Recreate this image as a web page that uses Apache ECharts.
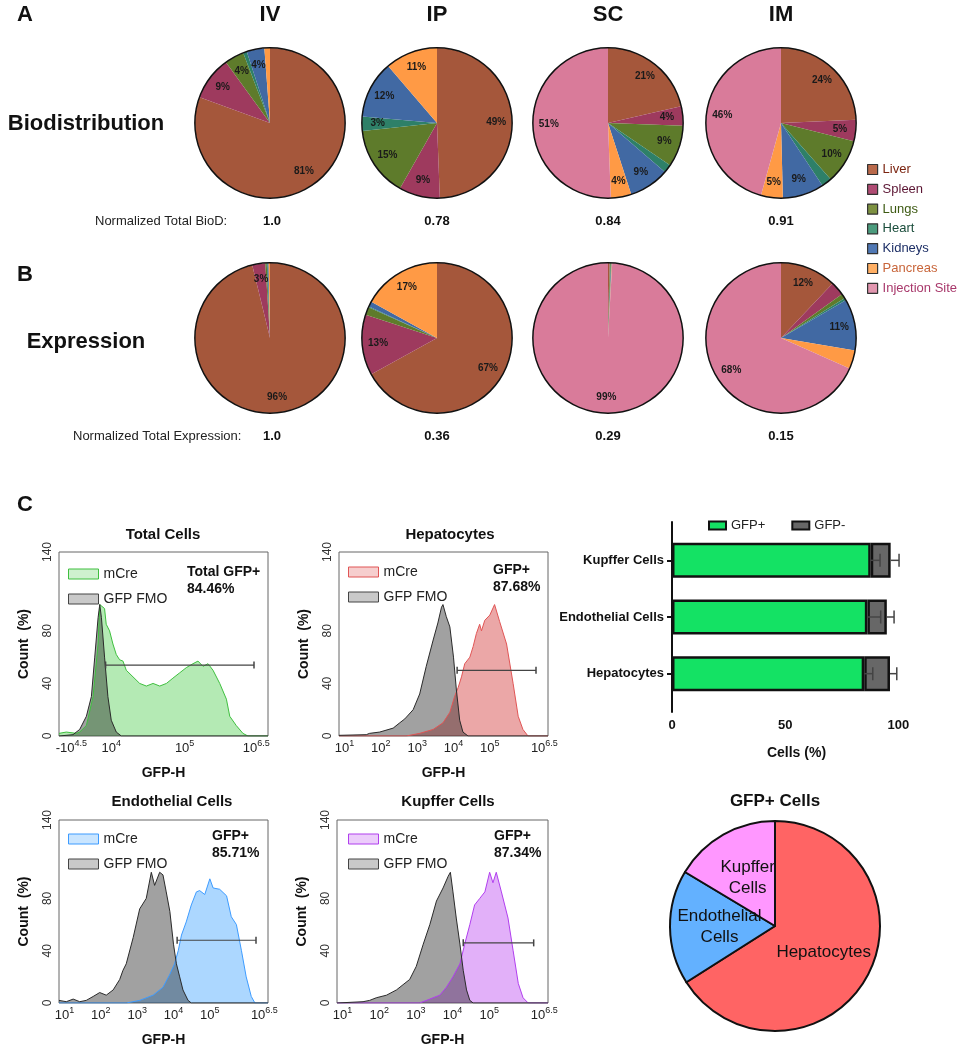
<!DOCTYPE html>
<html><head><meta charset="utf-8">
<script src="https://cdn.jsdelivr.net/npm/echarts@6/dist/echarts.min.js"></script>
<style>html,body{margin:0;padding:0;background:#fff}#c{width:960px;height:1050px}</style>
</head><body><div id="c"></div>
<script>
// ---------------- DATA ----------------
const organs = ['Liver','Spleen','Lungs','Heart','Kidneys','Pancreas','Injection Site'];
const routes = ['IV','IP','SC','IM'];
// Biodistribution (% of total), organ order as above
const biodIV = [80.6, 9.4, 4.2, 0.8, 3.8, 1.2, 0];
const biodIP = [49.4, 8.8, 15.1, 3.1, 12.3, 11.3, 0];
const biodSC = [21.4, 4.2, 8.9, 1.8, 8.7, 4.4, 50.6];
const biodIM = [24.3, 4.6, 9.6, 2.2, 8.9, 4.7, 45.7];
// Expression (% of total)
const exprIV = [96.2, 2.8, 0.3, 0.2, 0.2, 0.3, 0];
const exprIP = [67, 13, 1.7, 0.2, 1.1, 17, 0];
const exprSC = [0.3, 0.1, 0.2, 0.1, 0.1, 0.1, 99.1];
const exprIM = [12, 3, 1, 0.5, 11, 4, 68];
// which slices carry a % label
const biodLabeled = [[0,1,2,4],[0,1,2,3,4,5],[0,1,2,4,5,6],[0,1,2,4,5,6]];
const exprLabeled = [[0,1],[0,1,5],[6],[0,4,6]];
const normBioD = ['1.0','0.78','0.84','0.91'];
const normExpr = ['1.0','0.36','0.29','0.15'];

// Flow histograms: [x, count%]; x = log10(GFP-H) except Total Cells (biexponential display channel 0-1000)
const totalMcre = [[0,2],[35,3],[83,2],[99,3],[131,8],[163,30],[187,70],[195,100],[203,100],[218,97],[226,85],[242,80],[258,70],[274,62],[290,58],[306,57],[322,50],[354,45],[386,40],[418,38],[450,40],[482,38],[514,40],[545,44],[577,48],[609,52],[641,55],[665,57],[689,53],[713,55],[737,50],[769,40],[801,28],[817,15],[848,8],[880,2],[904,0],[1000,0]];
const totalFmo = [[0,0],[67,1],[99,5],[131,15],[155,30],[171,60],[187,90],[195,100],[203,90],[218,60],[234,30],[250,12],[274,3],[298,0],[1000,0]];
const totalGate = [[223,54],[933,54]];
const totalTickCh = [59, 250, 601, 944];
const totalTickBase = ['-10','10','10','10'];
const totalTickExp = ['4.5','4','5','6.5'];

const hepFmo = [[0.85,0.5],[1.6,1],[1.69,2],[1.97,3],[2.34,6],[2.52,10],[2.66,13],[2.89,20],[3.07,32],[3.25,53],[3.44,73],[3.57,86],[3.67,98],[3.71,100],[3.8,91],[3.9,83],[4.0,60],[4.08,35],[4.17,12],[4.26,3],[4.4,0],[6.6,0]];
const hepMcre = [[0.85,0],[2.7,0],[3.07,2],[3.44,5],[3.71,10],[3.9,18],[4.03,30],[4.13,37],[4.22,45],[4.31,55],[4.45,60],[4.54,68],[4.63,78],[4.72,85],[4.77,80],[4.86,88],[5.0,92],[5.13,100],[5.27,87],[5.46,70],[5.64,40],[5.78,15],[5.91,5],[6.05,0],[6.6,0]];
const hepGate = [[4.1,50],[6.27,50]];

const endoFmo = [[0.85,2],[1.05,1],[1.24,3],[1.42,1],[1.6,2],[1.79,5],[1.97,8],[2.15,6],[2.34,10],[2.52,18],[2.61,25],[2.7,30],[2.89,50],[3.07,72],[3.25,80],[3.39,100],[3.48,90],[3.62,100],[3.71,98],[3.8,85],[3.9,70],[4.0,45],[4.08,30],[4.17,20],[4.26,10],[4.4,2],[4.49,0],[6.6,0]];
const endoMcre = [[0.85,0],[2.7,0],[3.07,2],[3.44,6],[3.71,12],[3.9,22],[4.03,30],[4.13,40],[4.22,52],[4.35,62],[4.49,75],[4.63,85],[4.72,86],[4.86,83],[5.0,95],[5.09,88],[5.27,87],[5.46,82],[5.59,66],[5.73,60],[5.87,40],[6.0,20],[6.14,5],[6.24,0],[6.6,0]];
const endoGate = [[4.1,48],[6.27,48]];

const kupFmo = [[0.85,0],[1.56,1],[1.74,2],[1.92,4],[2.2,6],[2.47,10],[2.65,14],[2.83,18],[3.01,28],[3.2,45],[3.38,60],[3.56,78],[3.74,88],[3.88,97],[3.94,100],[4.01,85],[4.1,65],[4.2,45],[4.29,25],[4.38,10],[4.47,2],[4.56,0],[6.6,0]];
const kupMcre = [[0.85,0],[3.1,0],[3.38,3],[3.65,6],[3.83,12],[4.01,20],[4.2,30],[4.33,45],[4.47,60],[4.6,75],[4.74,80],[4.88,85],[5.01,100],[5.1,92],[5.19,100],[5.33,85],[5.51,65],[5.65,40],[5.79,15],[5.92,4],[6.06,0],[6.6,0]];
const kupGate = [[4.29,46],[6.21,46]];

const logTicks = [1, 2, 3, 4, 5, 6.5];
const countTicks = [0, 40, 80, 140];
const histTitles = ['Total Cells','Hepatocytes','Endothelial Cells','Kupffer Cells'];
const gfpLabel = ['Total GFP+','GFP+','GFP+','GFP+'];
const gfpPct = ['84.46%','87.68%','85.71%','87.34%'];

// Bar chart
const cellTypes = ['Hepatocytes','Endothelial Cells','Kupffer Cells'];
const gfpPos = [84.9, 86.3, 87.8];
const gfpNeg = [11.4, 8.6, 8.8];
const gfpPosErr = [3.8, 5.9, 4.1];
const gfpNegErr = [3.0, 3.2, 3.7];
const barTicks = [0, 50, 100];

// GFP+ cells pie
const gfpCellNames = ['Hepatocytes','Endothelial Cells','Kupffer Cells'];
const gfpCellShare = [66, 17.6, 16.4];

// ---------------- STYLE / LAYOUT ----------------
const FF = '"Liberation Sans", Arial, sans-serif';
const organColors = ['#A5573B','#9E3A5E','#5E7B2B','#2E8068','#4169A3','#FF9A45','#D97B9A'];
const organLegendFill = ['#B9694B','#AF4B73','#7D9141','#4B9B7D','#5078B4','#FFAF64','#E196AF'];
const organTextColors = ['#7B2410','#5C1634','#3D5A12','#1A4D3B','#1D2F66','#C8653A','#A8386B'];
const routeX = [270, 437, 608, 781];
const bioY = 123, exprY = 338, pieR = 75;

function pieSet(vals, labeled, cx, cy, r) {
  return [
    { type:'pie', silent:true, center:[cx,cy], radius:[0,r], startAngle:90, clockwise:true,
      label:{show:false}, labelLine:{show:false}, itemStyle:{borderWidth:0},
      data: organs.map((n,i)=>({name:n, value:vals[i], itemStyle:{color:organColors[i]}})) },
    { type:'pie', silent:true, center:[cx,cy], radius:[r*0.5, r], startAngle:90, clockwise:true,
      itemStyle:{color:'rgba(0,0,0,0)', borderWidth:0}, labelLine:{show:false},
      label:{position:'inside', fontSize:10, fontWeight:'bold', color:'#1a1a1a', fontFamily:FF,
             formatter:p=>Math.round(p.value)+'%'},
      data: vals.map((v,i)=>({value:v, label:{show:labeled.includes(i)}})) },
    { type:'pie', silent:true, center:[cx,cy], radius:[r-0.6, r+0.9], label:{show:false}, labelLine:{show:false},
      itemStyle:{color:'#111'}, data:[{value:1}] }
  ];
}

const series = [];
[biodIV, biodIP, biodSC, biodIM].forEach((v,i)=>series.push(...pieSet(v, biodLabeled[i], routeX[i], bioY, pieR)));
[exprIV, exprIP, exprSC, exprIM].forEach((v,i)=>series.push(...pieSet(v, exprLabeled[i], routeX[i], exprY, pieR)));

// histogram grids
const histGrids = [
  {left:59, top:552, width:209, height:184},
  {left:339, top:552, width:209, height:184},
  {left:59, top:820, width:209, height:183},
  {left:337, top:820, width:211, height:183}
];
const histSets = [
  {key:'t', mcre:totalMcre, fmo:totalFmo, gate:totalGate, line:'#3FBF3F', fill:'rgba(60,200,60,0.55)', legFill:'rgba(60,200,60,0.25)'},
  {key:'h', mcre:hepMcre, fmo:hepFmo, gate:hepGate, line:'#E05555', fill:'rgba(205,40,40,0.58)', legFill:'rgba(220,60,60,0.25)'},
  {key:'e', mcre:endoMcre, fmo:endoFmo, gate:endoGate, line:'#3D9BFF', fill:'rgba(40,150,255,0.55)', legFill:'rgba(40,150,255,0.25)'},
  {key:'k', mcre:kupMcre, fmo:kupFmo, gate:kupGate, line:'#B03EEE', fill:'rgba(180,50,240,0.55)', legFill:'rgba(180,50,240,0.25)'}
];
const histLegendPos = [[63,562],[343,560],[63,827],[343,827]];
const histTitlePos = [[163,535],[450,535],[172,802],[448,802]];
const gfpTextPos = [[187,572],[493,570],[212,836],[494,836]];

const grids = histGrids.map(g=>Object.assign({show:true, borderColor:'#666', borderWidth:1, backgroundColor:'#fff'}, g));
grids.push({left:672, top:532, width:249, height:170});   // bar chart
grids.push({left:672, top:522, width:249, height:190});   // bar chart y-axis line

const supRich = {
  b:{fontSize:13, color:'#222', lineHeight:16, verticalAlign:'bottom', fontFamily:FF},
  s:{fontSize:9, color:'#222', lineHeight:16, verticalAlign:'top', fontFamily:FF}
};
const xAxes = [], yAxes = [];
histSets.forEach((h,i)=>{
  const isTotal = i===0;
  xAxes.push({
    type:'value', gridIndex:i, min: isTotal?0:0.85, max: isTotal?1000:6.6,
    axisLine:{show:false}, axisTick:{show:false}, splitLine:{show:false},
    name:'GFP-H', nameLocation:'middle', nameGap:30,
    nameTextStyle:{fontSize:14, fontWeight:'bold', color:'#111', fontFamily:FF},
    axisLabel:{ margin:3, customValues: isTotal?totalTickCh:logTicks, rich:supRich,
      formatter: v => isTotal
        ? '{b|'+totalTickBase[totalTickCh.indexOf(v)]+'}{s|'+totalTickExp[totalTickCh.indexOf(v)]+'}'
        : '{b|10}{s|'+v+'}' }
  });
  yAxes.push({
    type:'value', gridIndex:i, min:0, max:140,
    axisLine:{show:false}, axisTick:{show:false}, splitLine:{show:false},
    name:'Count  (%)', nameLocation:'middle', nameGap:28, nameRotate:90,
    nameTextStyle:{fontSize:14, fontWeight:'bold', color:'#111', fontFamily:FF},
    axisLabel:{customValues:countTicks, rotate:90, fontSize:12, color:'#333', margin:5, fontFamily:FF}
  });
  series.push({type:'line', name:'mCre|'+h.key, xAxisIndex:i, yAxisIndex:i, data:h.mcre, symbol:'none', silent:true,
    lineStyle:{color:h.line, width:1}, itemStyle:{color:h.line}, areaStyle:{color:h.fill}});
  series.push({type:'line', name:'GFP FMO|'+h.key, xAxisIndex:i, yAxisIndex:i, data:h.fmo, symbol:'none', silent:true,
    lineStyle:{color:'#2a2a2a', width:1}, itemStyle:{color:'#555'}, areaStyle:{color:'rgba(30,30,30,0.6)'}});
  series.push({type:'line', name:'gate|'+h.key, xAxisIndex:i, yAxisIndex:i, data:h.gate, silent:true,
    symbol:'rect', symbolSize:[1.5,7], lineStyle:{color:'#444', width:1.2}, itemStyle:{color:'#444'}});
});

// bar chart axes
xAxes.push({type:'value', gridIndex:4, min:0, max:110, offset:10,
  axisLine:{lineStyle:{color:'#111', width:2}},
  axisTick:{customValues:barTicks, length:5, lineStyle:{color:'#111', width:2}},
  axisLabel:{customValues:barTicks, fontSize:13, fontWeight:'bold', color:'#111', margin:7, fontFamily:FF},
  splitLine:{show:false},
  name:'Cells (%)', nameLocation:'middle', nameGap:34,
  nameTextStyle:{fontSize:14, fontWeight:'bold', color:'#111', fontFamily:FF}});
yAxes.push({type:'category', gridIndex:4, data:cellTypes,
  axisLine:{show:false},
  axisTick:{show:true, alignWithLabel:true, length:5, lineStyle:{color:'#111', width:2}},
  axisLabel:{fontSize:13, fontWeight:'bold', color:'#111', margin:8, fontFamily:FF}});
xAxes.push({type:'value', gridIndex:5, show:false, min:0, max:1});
yAxes.push({type:'value', gridIndex:5, min:0, max:1, axisLine:{show:true, lineStyle:{color:'#111', width:2}},
  axisTick:{show:false}, axisLabel:{show:false}, splitLine:{show:false}});

series.push({type:'bar', name:'GFP+', stack:'cells', xAxisIndex:4, yAxisIndex:4, data:gfpPos, barWidth:35, silent:true,
  itemStyle:{color:'#14E264', borderColor:'#111', borderWidth:2.5}});
series.push({type:'bar', name:'GFP-', stack:'cells', xAxisIndex:4, yAxisIndex:4, data:gfpNeg, barWidth:35, silent:true,
  itemStyle:{color:'#676767', borderColor:'#111', borderWidth:2.5}});
function errRender(params, api){
  const c = api.value(0), base = api.value(1), e = api.value(2);
  const p0 = api.coord([base, c]), p1 = api.coord([base+e, c]);
  const h = 6.5, st = {stroke:'#444', lineWidth:1.5};
  return {type:'group', children:[
    {type:'line', shape:{x1:p0[0], y1:p0[1], x2:p1[0], y2:p1[1]}, style:st},
    {type:'line', shape:{x1:p1[0], y1:p1[1]-h, x2:p1[0], y2:p1[1]+h}, style:st}
  ]};
}
const errData = [];
cellTypes.forEach((c,i)=>{
  errData.push([i, gfpPos[i], gfpPosErr[i]]);
  errData.push([i, gfpPos[i]+gfpNeg[i], gfpNegErr[i]]);
});
series.push({type:'custom', name:'err', xAxisIndex:4, yAxisIndex:4, silent:true, renderItem:errRender,
  encode:{x:1, y:0}, data:errData, z:5});

// GFP+ cells pie
const gfpCellColors = ['#FF6464','#63B1FF','#FF97FF'];
series.push({type:'pie', silent:true, center:[775,926], radius:[0,105], startAngle:90, clockwise:true,
  itemStyle:{borderColor:'#111', borderWidth:2},
  label:{show:true, position:'inside', fontSize:17, color:'#111', lineHeight:21, fontFamily:FF,
    formatter:p=>p.name.replace(' ','\n')},
  labelLine:{show:false},
  data: gfpCellNames.map((n,i)=>({name:n, value:gfpCellShare[i], itemStyle:{color:gfpCellColors[i]}}))});

// legends
const legends = [{
  orient:'vertical', left:862, top:158, itemWidth:10, itemHeight:10, itemGap:6.8, selectedMode:false, icon:'rect',
  textStyle:{fontSize:13, fontFamily:FF},
  itemStyle:{borderColor:'#333', borderWidth:1.2},
  data: organs.map((n,i)=>({name:n, itemStyle:{color:organLegendFill[i]}, textStyle:{color:organTextColors[i]}}))
}];
histSets.forEach((h,i)=>{
  legends.push({orient:'vertical', left:histLegendPos[i][0], top:histLegendPos[i][1], itemWidth:30, itemHeight:10, itemGap:11,
    selectedMode:false, icon:'rect', textStyle:{fontSize:14, color:'#222', fontFamily:FF},
    formatter: n => n.split('|')[0],
    data:[{name:'mCre|'+h.key, itemStyle:{color:h.legFill, borderColor:h.line, borderWidth:1}},
          {name:'GFP FMO|'+h.key, itemStyle:{color:'#c9c9c9', borderColor:'#444', borderWidth:1}}]});
});
legends.push({orient:'horizontal', left:703, top:514, itemWidth:17, itemHeight:8, itemGap:26, selectedMode:false, icon:'rect',
  textStyle:{fontSize:13, color:'#222', fontFamily:FF},
  itemStyle:{borderColor:'#111', borderWidth:2}, data:['GFP+','GFP-']});

// text annotations
function txt(t, x, y, font, align, color){
  const a = align || 'center';
  return {type:'text', x:x, y:y, silent:true,
    style:{text:t, font:font+' '+FF, fill:color||'#111', textAlign:a, textVerticalAlign:'middle', align:a, verticalAlign:'middle'}};
}
const graphics = [
  txt('A', 25, 15, 'bold 22px'), txt('B', 25, 275, 'bold 22px'), txt('C', 25, 505, 'bold 22px'),
  txt('Biodistribution', 86, 124, 'bold 22px'), txt('Expression', 86, 342, 'bold 22px'),
  txt('Normalized Total BioD:', 95, 221, '13px', 'left', '#222'),
  txt('Normalized Total Expression:', 73, 436, '13px', 'left', '#222'),
  txt('GFP+ Cells', 775, 801, 'bold 17px')
];
routes.forEach((r,i)=>{
  graphics.push(txt(r, routeX[i], 15, 'bold 22px'));
  graphics.push(txt(normBioD[i], routeX[i]+ (i===0?2:0), 221, 'bold 13px'));
  graphics.push(txt(normExpr[i], routeX[i]+ (i===0?2:0), 436, 'bold 13px'));
});
histTitles.forEach((t,i)=>{
  graphics.push(txt(t, histTitlePos[i][0], histTitlePos[i][1], 'bold 15px'));
  graphics.push(txt(gfpLabel[i], gfpTextPos[i][0], gfpTextPos[i][1], 'bold 14px', 'left'));
  graphics.push(txt(gfpPct[i], gfpTextPos[i][0], gfpTextPos[i][1]+17, 'bold 14px', 'left'));
});

const chart = echarts.init(document.getElementById('c'), null, {renderer:'canvas'});
chart.setOption({
  animation:false, backgroundColor:'#fff',
  textStyle:{fontFamily:FF},
  grid:grids, xAxis:xAxes, yAxis:yAxes, legend:legends, series:series, graphic:graphics
});
</script></body></html>
